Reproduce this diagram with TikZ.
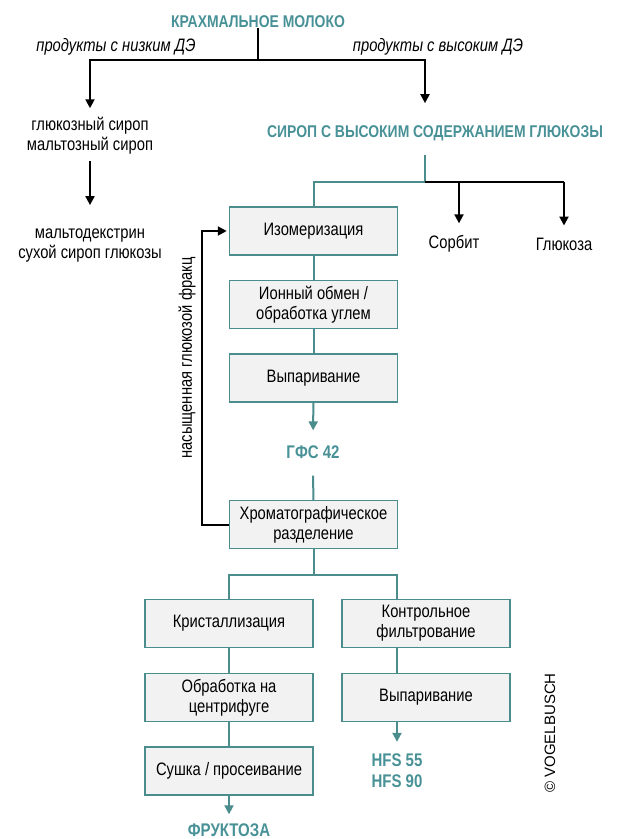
\documentclass[tikz,border=0pt]{standalone}
\usepackage{fontspec}
\setmainfont[FakeStretch=0.82]{Liberation Sans}
\newfontfamily\plainsans{Liberation Sans}
\usepackage{tikz}
\usetikzlibrary{positioning,arrows.meta}
\usepackage{xcolor}
\definecolor{vbteal}{RGB}{75,140,140}
\definecolor{vbtext}{RGB}{72,145,150}
\definecolor{boxgray}{RGB}{242,242,242}

\begin{document}
\begin{tikzpicture}[
    x=1pt, y=-1pt,
    every node/.style={font=\fontsize{18}{20}\selectfont, inner sep=0pt, align=center},
    box/.style={draw=vbteal, line width=1.5pt, fill=boxgray, minimum width=168pt, minimum height=48pt, align=center},
    title/.style={text=vbtext, font=\fontsize{17}{20}\selectfont\bfseries},
    prod/.style={text=vbtext, font=\fontsize{18.3}{21}\selectfont\bfseries},
    tln/.style={draw=vbteal, line width=2pt},
    tarr/.style={draw=vbteal, line width=2pt, -{Triangle[length=9pt,width=9pt]}},
    bln/.style={line width=2pt},
    barr/.style={line width=2pt, -{Triangle[length=9pt,width=9pt]}}
]
\useasboundingbox (0,0) rectangle (626,839);

% top of the tree
\node[title] (starch) at (258,22) {КРАХМАЛЬНОЕ МОЛОКО};
\node[font=\fontsize{18}{20}\selectfont\itshape] (lowde) at (116,47) {продукты с низким ДЭ};
\node[font=\fontsize{18}{20}\selectfont\itshape] (highde) at (438,47) {продукты с высоким ДЭ};
\node (glsyr) at (90,136) {глюкозный сироп\\мальтозный сироп};
\node (malto) at (90,246) {мальтодекстрин\\сухой сироп глюкозы};
\node[title] (hgs) at (435,133) {СИРОП С ВЫСОКИМ СОДЕРЖАНИЕМ ГЛЮКОЗЫ};
\node (sorb) at (454,244) {Сорбит};
\node (gluc) at (564,244) {Глюкоза};

% process boxes
\node[box] (iso) at (313.5,231) {Изомеризация};
\node[box] (ion) at (313.5,304.5) {Ионный обмен /\\обработка углем};
\node[box] (evapa) at (313.5,378) {Выпаривание};
\node[prod] (gfs) at (313,452) {ГФС 42};
\node[box] (chrom) at (313.5,524.5) {Хроматографическое\\разделение};
\node[box] (cryst) at (229,623.5) {Кристаллизация};
\node[box] (filt) at (426,623.5) {Контрольное\\фильтрование};
\node[box] (centr) at (229,697.5) {Обработка на\\центрифуге};
\node[box] (evapb) at (426,697.5) {Выпаривание};
\node[box] (dry) at (229,771) {Сушка / просеивание};
\node[prod] (fruct) at (229,830) {ФРУКТОЗА};
\node[prod] (hfs) at (397,771) {HFS 55\\HFS 90};

\node[rotate=90] (satfrac) at (187,358) {насыщенная глюкозой фракц};
\node[rotate=90, font=\fontsize{15}{18}\selectfont\plainsans] (vogel) at (550,733) {© VOGELBUSCH};

\coordinate (sp) at (258,60);
\coordinate (hb) at (425,182);
\coordinate (cs) at (313.5,575);

% connectors
\draw[bln] (starch) -- (sp);
\draw[barr, shorten >=9pt] (sp) -| (glsyr);
\draw[barr, shorten >=22pt] (sp) -| ([xshift=-10pt]hgs.north);
\draw[barr, shorten <=6pt, shorten >=24pt] (glsyr) -- (malto);
\draw[tln, shorten <=14pt] ([xshift=-10pt]hgs.south) -- (hb);
\draw[tln] (hb) -| (iso);
\draw[bln] (hb) -- (hb -| gluc);
\draw[barr, shorten >=12pt] (hb -| sorb) ++(5,0) -- ([xshift=5pt]sorb.north);
\draw[barr, shorten >=12pt] (hb -| gluc) -- (gluc.north);
\draw[tln] (iso) -- (ion);
\draw[tln] (ion) -- (evapa);
\draw[tarr, shorten >=15pt] (evapa) -- (gfs);
\draw[tln, shorten <=17pt] (gfs) -- (chrom);
\draw[barr, shorten >=2pt] (chrom.west) -- ++(-27,0) |- (iso.west);
\draw[tln] (chrom) -- (cs);
\draw[tln] (cs) -| (cryst);
\draw[tln] (cs) -| ([xshift=-29pt]filt.north);
\draw[tln] (cryst) -- (centr);
\draw[tln] (centr) -- (dry);
\draw[tln] ([xshift=-29pt]filt.south) -- ([xshift=-29pt]evapb.north);
\draw[tarr, shorten >=9pt] (dry) -- (fruct);
\draw[tarr, shorten >=12pt] ([xshift=-29pt]evapb.south) -- (hfs.north);

\end{tikzpicture}
\end{document}
